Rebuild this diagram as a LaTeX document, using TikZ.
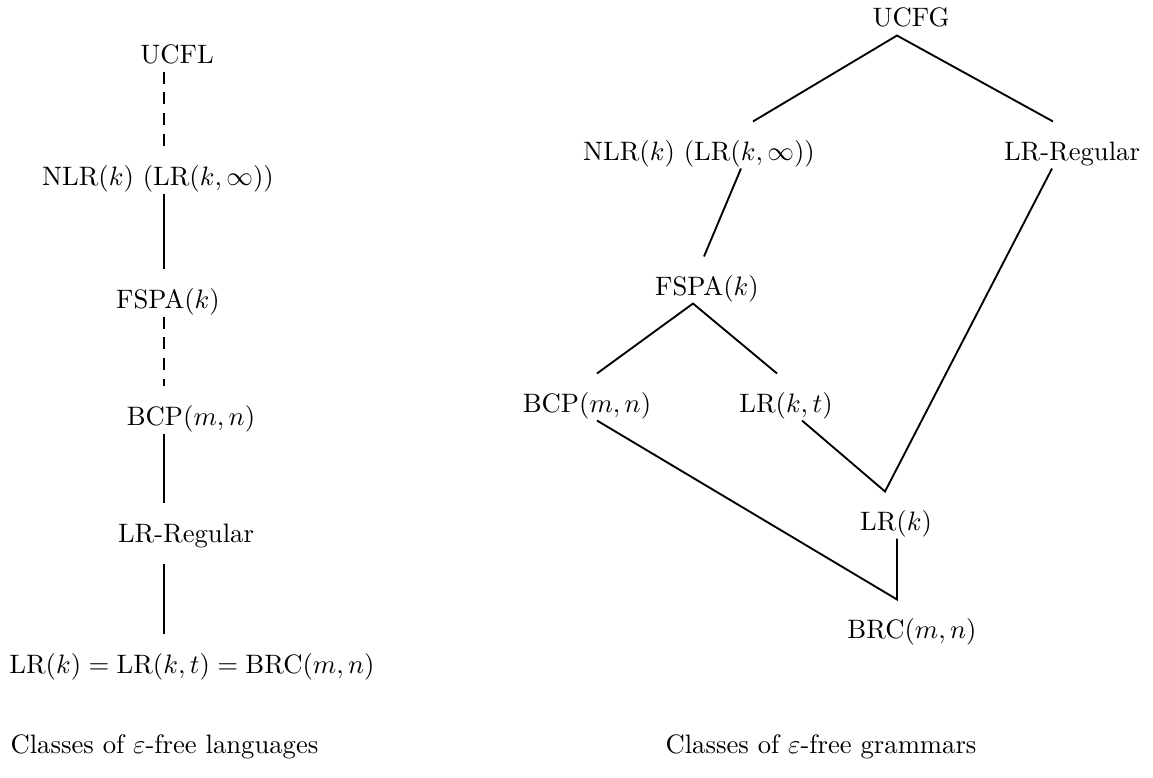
\documentclass[tikz,border=0pt]{standalone}
\usepackage{amsmath}
\usepackage{tikz}
\usetikzlibrary{positioning,calc}

\begin{document}
\begin{tikzpicture}[x=0.375pt,y=-0.375pt,
  cls/.style={inner sep=0pt, anchor=base, text height=14.25pt, text depth=3pt},
  caption/.style={inner sep=0pt, anchor=base west},
  link/.style={line width=0.7pt},
  dlink/.style={line width=0.7pt, dash pattern=on 4.5pt off 3.3pt}]

\useasboundingbox (0,0) rectangle (1153,778);

% Classes of languages (left chain)
\node[cls] (ucfl) at (177,63) {UCFL};
\node[cls] (nlrL) at (158,185) {NLR$(k)$ (LR$(k,\infty)$)};
\node[cls] (fspaL) at (168,308) {FSPA$(k)$};
\node[cls] (bcpL) at (191,425) {BCP$(m,n)$};
\node[cls] (lrregL) at (186,542) {LR-Regular};
\node[cls] (eqL) at (192,673) {$\mathrm{LR}(k) = \mathrm{LR}(k,t) = \mathrm{BRC}(m,n)$};

\draw[dlink] ([shift={(-13,0)}]ucfl.south) -- ([shift={(6,0)}]nlrL.north);
\draw[link] ([shift={(6,0)}]nlrL.south) -- ([shift={(-4,0)}]fspaL.north);
\draw[dlink] ([shift={(-4,0)}]fspaL.south) -- ([shift={(-27,0)}]bcpL.north);
\draw[link] ([shift={(-27,0)}]bcpL.south) -- ([shift={(-22,0)}]lrregL.north);
\draw[link] ([shift={(-22,13)}]lrregL.south) -- ([shift={(-28,0)}]eqL.north);

% Classes of grammars (right lattice)
\node[cls] (ucfg) at (911,27) {UCFG};
\node[cls] (nlrR) at (699,160) {NLR$(k)$ (LR$(k,\infty)$)};
\node[cls] (lrregR) at (1072,160) {LR-Regular};
\node[cls] (fspaR) at (707,295) {FSPA$(k)$};
\node[cls] (bcpR) at (587,412) {BCP$(m,n)$};
\node[cls] (lrktR) at (786,412) {LR$(k,t)$};
\node[cls] (lrkR) at (896,530) {LR$(k)$};
\node[cls] (brcR) at (912,638) {BRC$(m,n)$};

\draw[link] ([shift={(54,0)}]nlrR.north) -- ([shift={(-14,0)}]ucfg.south) -- ([shift={(-19,0)}]lrregR.north);
\draw[link] ([shift={(42,0)}]nlrR.south) -- ([shift={(-3,0)}]fspaR.north);
\draw[link] ([shift={(10,0)}]bcpR.north) -- ([shift={(-14,0)}]fspaR.south) -- ([shift={(-9,0)}]lrktR.north);
\draw[link] ([shift={(16,0)}]lrktR.south) -- ([shift={(-11,0)}]lrkR.north) -- ([shift={(-20,0)}]lrregR.south);
\draw[link] ([shift={(10,0)}]bcpR.south) -- ([shift={(-15,0)}]brcR.north) -- ([shift={(1,0)}]lrkR.south);

% Captions
\node[caption] (capL) at (10,753) {Classes of $\varepsilon$-free languages};
\node[caption] (capR) at (665,753) {Classes of $\varepsilon$-free grammars};

\end{tikzpicture}
\end{document}
